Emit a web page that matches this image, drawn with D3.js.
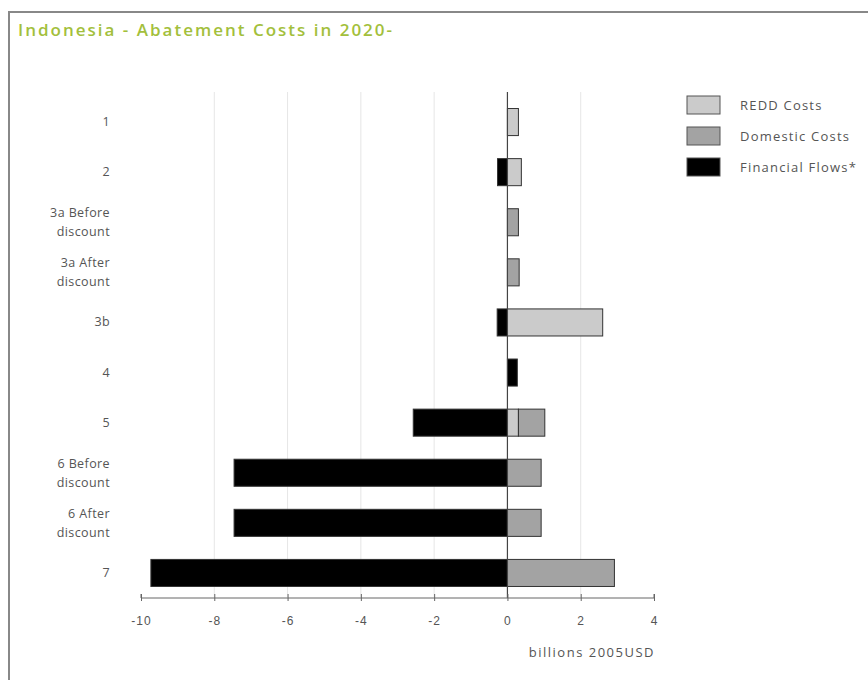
<!DOCTYPE html>
<html>
<head>
<meta charset="utf-8">
<script src="https://cdn.jsdelivr.net/npm/d3@7"></script>
<style>
  body { margin: 0; background: #fff; font-family: "Open Sans", Lato, sans-serif; }
  .tick text { fill: #555; }
</style>
</head>
<body>
<div id="chart"></div>
<script>
// data (billions 2005USD)
var categories = ["1", "2", "3a Before discount", "3a After discount", "3b", "4", "5",
                  "6 Before discount", "6 After discount", "7"];
var reddCosts      = [0.30, 0.38, 0,    0,    2.60, 0,    0.30, 0,     0,     0];
var domesticCosts  = [0,    0,    0.30, 0.32, 0,    0,    0.72, 0.92,  0.92,  2.92];
var financialFlows = [0,   -0.27, 0,    0,   -0.28, 0.27, -2.57, -7.46, -7.46, -9.73];
var seriesNames = ["REDD Costs", "Domestic Costs", "Financial Flows*"];
var xTicks = [-10, -8, -6, -4, -2, 0, 2, 4];

var colors = {"REDD Costs": "#cbcbcb", "Domestic Costs": "#a3a3a3", "Financial Flows*": "#000"};

var W = 868, H = 680;
var svg = d3.select("#chart").append("svg")
    .attr("width", W)
    .attr("height", H);

// frame
svg.append("rect")
    .attr("x", 9).attr("y", 12)
    .attr("width", W + 20).attr("height", H + 20)
    .attr("fill", "none")
    .attr("stroke", "#888")
    .attr("stroke-width", 2);

svg.append("text")
    .attr("x", 18).attr("y", 36)
    .attr("fill", "#a3bf3c")
    .style("font-size", "17px")
    .style("font-weight", "600")
    .style("letter-spacing", "2px")
    .text("Indonesia - Abatement Costs in 2020-");

var x = d3.scaleLinear().domain([-10, 4]).range([141, 654]);
var y = d3.scaleBand().domain(categories).range([97, 598]).paddingInner(0.46).paddingOuter(0.23);

// gridlines
svg.append("g")
    .selectAll("line")
    .data(xTicks.filter(function(d) { return d !== 0 && d !== -10 && d !== 4; }))
    .enter().append("line")
    .attr("x1", function(d) { return x(d); })
    .attr("x2", function(d) { return x(d); })
    .attr("y1", 92).attr("y2", 597)
    .attr("stroke", "#e6e6e6");

// stacked segments: positive from 0 out (REDD then domestic), negatives left of 0
var rows = categories.map(function(c, i) {
    var segs = [];
    var pos = 0, neg = 0;
    [["REDD Costs", reddCosts[i]], ["Domestic Costs", domesticCosts[i]], ["Financial Flows*", financialFlows[i]]]
      .forEach(function(p) {
        var v = p[1];
        if (v > 0) { segs.push({cat: c, name: p[0], x0: pos, x1: pos + v}); pos += v; }
        else if (v < 0) { segs.push({cat: c, name: p[0], x0: neg + v, x1: neg}); neg += v; }
      });
    return segs;
});

svg.append("g")
    .selectAll("rect")
    .data(d3.merge(rows))
    .enter().append("rect")
    .attr("x", function(d) { return x(d.x0); })
    .attr("width", function(d) { return x(d.x1) - x(d.x0); })
    .attr("y", function(d) { return y(d.cat); })
    .attr("height", y.bandwidth())
    .attr("fill", function(d) { return colors[d.name]; })
    .attr("stroke", "#333")
    .attr("stroke-width", 1);

// zero line
svg.append("line")
    .attr("x1", x(0)).attr("x2", x(0))
    .attr("y1", 92).attr("y2", 598)
    .attr("stroke", "#444")
    .attr("stroke-width", 1.2);

// x axis
var xAxis = svg.append("g")
    .attr("transform", "translate(0,598)")
    .call(d3.axisBottom(x).tickValues(xTicks).tickSize(6).tickPadding(12));
xAxis.select(".domain").attr("stroke", "#666").attr("d", "M" + x(-10) + ",-4V0H" + x(4) + "V-4");
xAxis.selectAll(".tick line").attr("stroke", "#666").attr("y1", -4).attr("y2", 3);
xAxis.selectAll(".tick text").style("font-size", "12px").style("letter-spacing", "1px");
xAxis.selectAll(".tick text").text(function(d) { return d < 0 ? "-" + Math.abs(d) : d; });

svg.append("text")
    .attr("x", 655).attr("y", 657)
    .attr("text-anchor", "end")
    .attr("fill", "#555")
    .style("font-size", "13px")
    .style("letter-spacing", "1.5px")
    .text("billions 2005USD");

// category labels
var lab = svg.append("g")
    .selectAll("text")
    .data(categories)
    .enter().append("text")
    .attr("x", 110)
    .attr("text-anchor", "end")
    .attr("fill", "#555")
    .style("font-size", "12.5px")
    .style("letter-spacing", "0.4px");
lab.each(function(d) {
    var t = d3.select(this);
    var cy = y(d) + y.bandwidth() / 2;
    var m = d.match(/^(.*) (discount)$/);
    if (m) {
        t.append("tspan").attr("x", 110).attr("y", cy - 5).text(m[1]);
        t.append("tspan").attr("x", 110).attr("y", cy + 14).text(m[2]);
    } else {
        t.attr("y", cy + 4).text(d);
    }
});

// legend
var legend = svg.append("g")
    .selectAll("g")
    .data(seriesNames)
    .enter().append("g")
    .attr("transform", function(d, i) { return "translate(687," + (96 + i * 31) + ")"; });
legend.append("rect")
    .attr("width", 33).attr("height", 18)
    .attr("fill", function(d) { return colors[d]; })
    .attr("stroke", "#555");
legend.append("text")
    .attr("x", 53).attr("y", 14)
    .attr("fill", "#555")
    .style("font-size", "13px")
    .style("letter-spacing", "1.2px")
    .text(function(d) { return d; });
</script>
</body>
</html>
